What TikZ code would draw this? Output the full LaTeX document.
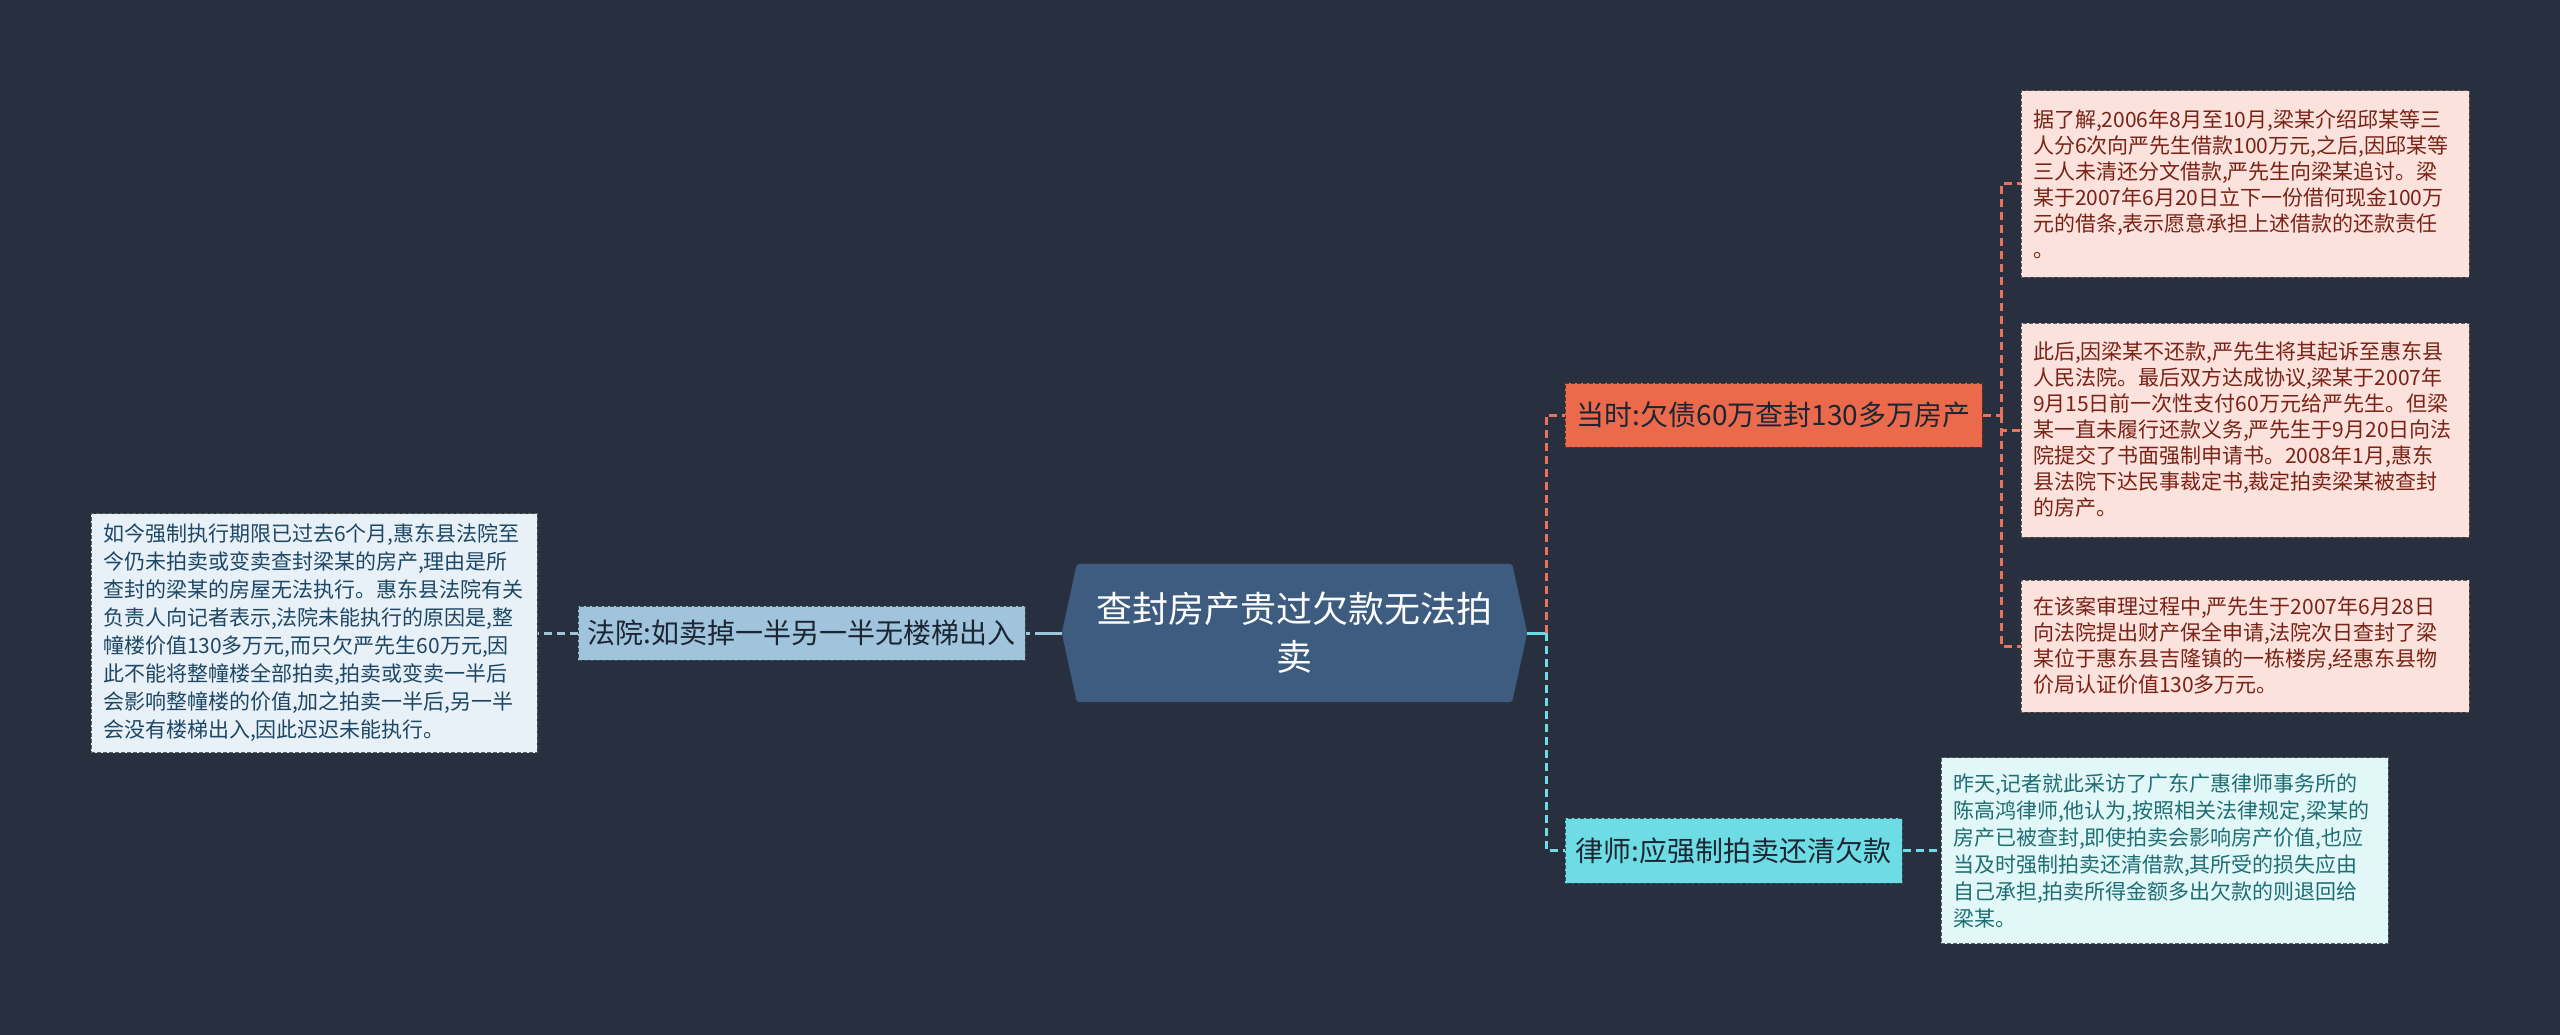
\documentclass[tikz,border=0pt]{standalone}
\usepackage{fontspec}
\newfontfamily\cjk{Noto Sans CJK SC}
\usetikzlibrary{calc}
\definecolor{bg}{HTML}{283040}
\definecolor{rootfill}{RGB}{62,91,128}
\definecolor{bluefill}{HTML}{A0C4DC}
\definecolor{blueleaf}{HTML}{E8F1F7}
\definecolor{bluetext}{HTML}{1E4766}
\definecolor{orangefill}{HTML}{EC6A4C}
\definecolor{orangeline}{HTML}{E8735A}
\definecolor{pinkfill}{HTML}{FCE2DC}
\definecolor{pinktext}{HTML}{7A2216}
\definecolor{cyanfill}{HTML}{6EDCE4}
\definecolor{cyanleaf}{HTML}{E2F7F8}
\definecolor{cyantext}{HTML}{1E6E73}
\definecolor{darktext}{HTML}{1C2633}
\pgfdeclarelayer{bgl}
\pgfdeclarelayer{background}
\pgfsetlayers{bgl,background,main}
\begin{document}
\begin{tikzpicture}[x=1pt,y=-1pt,
  box/.style={rectangle, inner sep=0pt, line width=1pt, dash pattern=on 4pt off 2pt},
  leaf/.style={box, inner xsep=12pt, align=left, font=\cjk\fontsize{21}{26}\selectfont},
  lvlone/.style={box, align=center, font=\cjk\fontsize{28}{34}\selectfont},
  conn/.style={line width=3pt, dash pattern=on 8pt off 5pt},
  solidconn/.style={line width=3pt}
]
\begin{pgfonlayer}{bgl}
\fill[bg] (0,0) rectangle (2560,1035);
\end{pgfonlayer}
\useasboundingbox (0,0) rectangle (2560,1035);

% root
\node[minimum width=465pt, minimum height=138pt, inner sep=0pt, align=center,
      text=white, font=\cjk\fontsize{36}{48}\selectfont] (root) at (1294.5,633)
  {查封房产贵过欠款无法拍\\卖};
\begin{pgfonlayer}{background}
\fill[rootfill, rounded corners=3pt] (root.west) -- ($(root.north west)+(15,0)$) -- ($(root.north east)+(-15,0)$)
  -- (root.east) -- ($(root.south east)+(-15,0)$) -- ($(root.south west)+(15,0)$) -- cycle;
\end{pgfonlayer}

% left branch
\node[lvlone, fill=bluefill, draw=bluefill!40!black, text=darktext,
      minimum width=447pt, minimum height=54pt] (court) at (801.5,633)
  {法院:如卖掉一半另一半无楼梯出入};
\node[leaf, fill=blueleaf, draw=blueleaf!40!black, text=bluetext,
      text width=422pt, minimum height=239pt, font=\cjk\fontsize{21}{28}\selectfont] (courtLeaf) at (314,633)
  {如今强制执行期限已过去6个月,惠东县法院至\\
   今仍未拍卖或变卖查封梁某的房产,理由是所\\
   查封的梁某的房屋无法执行。惠东县法院有关\\
   负责人向记者表示,法院未能执行的原因是,整\\
   幢楼价值130多万元,而只欠严先生60万元,因\\
   此不能将整幢楼全部拍卖,拍卖或变卖一半后\\
   会影响整幢楼的价值,加之拍卖一半后,另一半\\
   会没有楼梯出入,因此迟迟未能执行。};

% orange branch
\node[lvlone, fill=orangefill, draw=orangefill!45!black, text=darktext,
      minimum width=417pt, minimum height=64pt] (orange) at (1773.5,415)
  {当时:欠债60万查封130多万房产};
\node[leaf, fill=pinkfill, draw=pinkfill!40!black, text=pinktext,
      text width=424pt, minimum height=186pt] (pinkA) at (2245,184)
  {据了解,2006年8月至10月,梁某介绍邱某等三\\
   人分6次向严先生借款100万元,之后,因邱某等\\
   三人未清还分文借款,严先生向梁某追讨。梁\\
   某于2007年6月20日立下一份借何现金100万\\
   元的借条,表示愿意承担上述借款的还款责任\\
   。};
\node[leaf, fill=pinkfill, draw=pinkfill!40!black, text=pinktext,
      text width=424pt, minimum height=214pt] (pinkB) at (2245,430)
  {此后,因梁某不还款,严先生将其起诉至惠东县\\
   人民法院。最后双方达成协议,梁某于2007年\\
   9月15日前一次性支付60万元给严先生。但梁\\
   某一直未履行还款义务,严先生于9月20日向法\\
   院提交了书面强制申请书。2008年1月,惠东\\
   县法院下达民事裁定书,裁定拍卖梁某被查封\\
   的房产。};
\node[leaf, fill=pinkfill, draw=pinkfill!40!black, text=pinktext,
      text width=424pt, minimum height=132pt] (pinkC) at (2245,646)
  {在该案审理过程中,严先生于2007年6月28日\\
   向法院提出财产保全申请,法院次日查封了梁\\
   某位于惠东县吉隆镇的一栋楼房,经惠东县物\\
   价局认证价值130多万元。};

% cyan branch
\node[lvlone, fill=cyanfill, draw=cyanfill!40!black, text=darktext,
      minimum width=337pt, minimum height=65pt] (cyan) at (1733.5,850.5)
  {律师:应强制拍卖还清欠款};
\node[leaf, fill=cyanleaf, draw=cyanleaf!40!black, text=cyantext,
      text width=423pt, minimum height=186pt, font=\cjk\fontsize{21}{27}\selectfont] (cyanLeaf) at (2164.5,850.5)
  {昨天,记者就此采访了广东广惠律师事务所的\\
   陈高鸿律师,他认为,按照相关法律规定,梁某的\\
   房产已被查封,即使拍卖会影响房产价值,也应\\
   当及时强制拍卖还清借款,其所受的损失应由\\
   自己承担,拍卖所得金额多出欠款的则退回给\\
   梁某。};

% connectors
\coordinate (jL) at (1043,633);
\draw[bluefill, solidconn] (root.west) -- (jL);
\draw[bluefill, conn] (jL) -- (court.east);
\draw[bluefill, conn] (court.west) -- (courtLeaf.east);

\coordinate (jR) at (1546,633);
\draw[cyanfill, solidconn] (root.east) -- (jR);
\draw[orangeline, conn] (jR) |- (orange.west);
\draw[cyanfill, conn] (jR) |- (cyan.west);

\coordinate (jO) at (2001,415);
\draw[orangeline, conn] (orange.east) -- (jO);
\draw[orangeline, conn] (jO) |- (pinkA.west);
\draw[orangeline, conn] (jO) |- (pinkB.west);
\draw[orangeline, conn] (jO) |- (pinkC.west);

\draw[cyanfill, conn] (cyan.east) -- (cyanLeaf.west);
\end{tikzpicture}
\end{document}
